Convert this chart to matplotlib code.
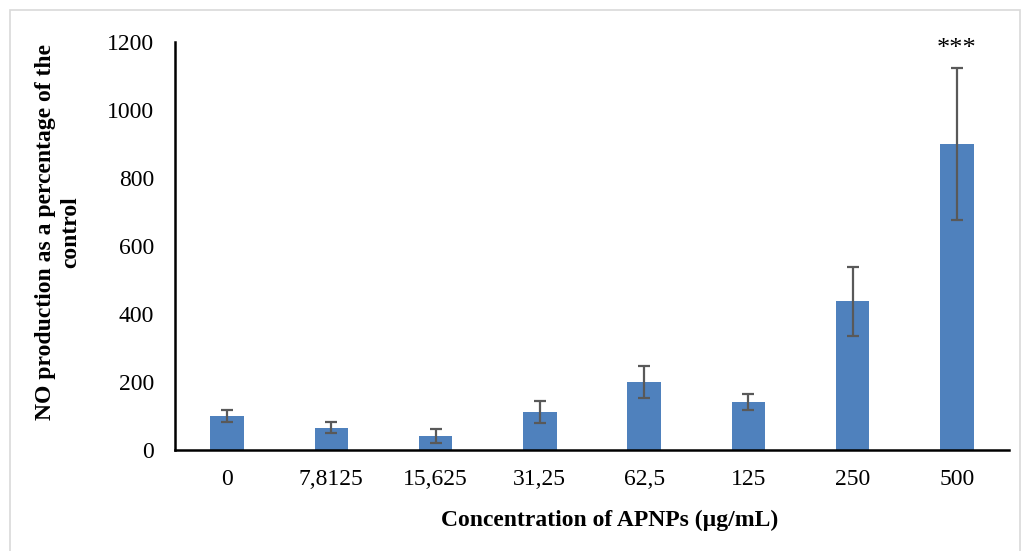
import matplotlib
matplotlib.use("Agg")
import matplotlib.pyplot as plt
from matplotlib.patches import Rectangle

concentrations = ["0", "7,8125", "15,625", "31,25", "62,5", "125", "250", "500"]
no_production = [100, 66, 41, 111, 200, 141, 437, 900]
sd = [17, 17, 21, 32, 46, 23, 102, 224]
significance = ["", "", "", "", "", "", "", "***"]

plt.rcParams["font.family"] = ["Liberation Serif", "DejaVu Serif"]

fig = plt.figure(figsize=(10.24, 5.51), dpi=100)
fig.patches.append(Rectangle((10 / 1024, -0.01), 1010 / 1024, 1 - 10 / 551 + 0.01,
                             transform=fig.transFigure, fill=False,
                             edgecolor="#D9D9D9", linewidth=1.2))
ax = fig.add_axes([175 / 1024, 1 - 450 / 551, (1009 - 175) / 1024, (450 - 42) / 551])

x = range(len(concentrations))
ax.bar(x, no_production, width=0.32, color="#4F81BD", zorder=2)
ax.errorbar(x, no_production, yerr=sd, fmt="none", ecolor="#595959",
            elinewidth=1.6, capsize=4.2, capthick=1.6, zorder=3)

for xi, val, err, lab in zip(x, no_production, sd, significance):
    if lab:
        ax.text(xi, val + err + 22, lab, ha="center", va="bottom", fontsize=19)

ax.set_xlim(-0.5, len(concentrations) - 0.5)
ax.set_ylim(0, 1200)
ax.set_yticks(range(0, 1201, 200))
ax.set_xticks(list(x))
ax.set_xticklabels(concentrations)
ax.tick_params(axis="both", length=0, labelsize=17)
ax.tick_params(axis="x", pad=14)
ax.tick_params(axis="y", pad=15)

for side in ("top", "right"):
    ax.spines[side].set_visible(False)
for side in ("left", "bottom"):
    ax.spines[side].set_color("black")
    ax.spines[side].set_linewidth(1.8)

# axis titles placed in figure coordinates
fig.text(610 / 1024, 1 - 520 / 551, "Concentration of APNPs (µg/mL)", fontsize=17,
         fontweight="bold", ha="center", va="center")
fig.text(58 / 1024, 1 - 232 / 551, "NO production as a percentage of the\ncontrol",
         fontsize=17, fontweight="bold", rotation=90, ha="center", va="center",
         multialignment="center", linespacing=1.25)

fig.savefig("out.png", dpi=100)
